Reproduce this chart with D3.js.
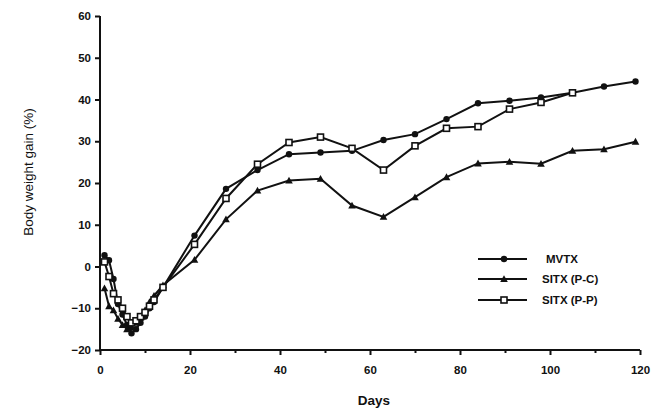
<!DOCTYPE html>
<html><head><meta charset="utf-8">
<script src="https://cdn.jsdelivr.net/npm/d3@7"></script>
<style>body{margin:0;background:#fff}svg{display:block}text{font-family:"Liberation Sans",Arial,sans-serif;fill:#111}</style>
</head><body><svg id="c" width="663" height="419"></svg>
<script>
const days = [1,2,3,4,5,6,7,8,9,10,11,12,14,21,28,35,42,49,56,63,70,77,84,91,98,105,112,119];
const mvtx = [2.7,1.5,-3,-9,-11.5,-14,-16,-15,-13.5,-12,-10,-8.5,-5,7.4,18.6,23.1,26.9,27.3,27.7,30.3,31.7,35.3,39.1,39.7,40.5,41.6,43.1,44.3];
const sitxPC = [-5.2,-9.5,-10.5,-12.5,-14,-15,-14.5,-13.5,-12,-10.5,-8.5,-7,-4.5,1.6,11.3,18.2,20.6,21.0,14.6,11.9,16.6,21.4,24.7,25.1,24.6,27.7,28.1,29.9];
const sitxPPdays = [1,2,3,4,5,6,7,8,9,10,11,12,14,21,28,35,42,49,56,63,70,77,84,91,98,105];
const sitxPP = [1.1,-2.4,-6.5,-8,-10,-12,-13.5,-13,-12,-11,-9.5,-8,-5,5.3,16.3,24.5,29.7,31.0,28.3,23.1,28.9,33.1,33.5,37.7,39.3,41.6];
const yTicks = [-20,-10,0,10,20,30,40,50,60];
const xTicks = [0,20,40,60,80,100,120];
const xMinor = [10,30,50,70,90,110];
const legendLabels = ["MVTX","SITX (P-C)","SITX (P-P)"];

const svg = d3.select("#c");
const x = d3.scaleLinear().domain([0,120]).range([100,640]);
const y = d3.scaleLinear().domain([-20,60]).range([350,16]);

// axes
const ya = svg.append("g").attr("transform","translate(100,0)")
  .call(d3.axisLeft(y).tickValues(yTicks).tickSize(5).tickPadding(4).tickFormat(d3.format("d")));
const xa = svg.append("g").attr("transform","translate(0,350)")
  .call(d3.axisBottom(x).tickValues(xTicks).tickSize(5).tickPadding(11).tickFormat(d3.format("d")));
svg.append("g").attr("transform","translate(0,350)")
  .call(d3.axisBottom(x).tickValues(xMinor).tickSize(3).tickFormat(""))
  .select(".domain").remove();
[ya,xa].forEach(g=>{
  g.select(".domain").attr("stroke","#111").attr("stroke-width",2).attr("d", g===ya ? "M0,16V350" : "M100,0H640");
  g.selectAll(".tick text").attr("font-size",11.5).attr("font-weight","bold").style("font-family","'Liberation Sans',Arial,sans-serif");
});
svg.selectAll("g .tick line").attr("stroke","#111").attr("stroke-width",2);

svg.append("text").attr("transform","translate(33,172) rotate(-90)").attr("text-anchor","middle")
  .attr("font-size",13.5).text("Body weight gain (%)");
svg.append("text").attr("x",374).attr("y",405).attr("text-anchor","middle")
  .attr("font-size",13.5).attr("font-weight","bold").text("Days");

const line = d3.line().x(d=>x(d[0])).y(d=>y(d[1]));
const series = [
  {d: days.map((t,i)=>[t,mvtx[i]]), m:"circle"},
  {d: days.map((t,i)=>[t,sitxPC[i]]), m:"triangle"},
  {d: sitxPPdays.map((t,i)=>[t,sitxPP[i]]), m:"square"}
];
function marker(g, type, cx, cy){
  if(type==="circle") g.append("circle").attr("cx",cx).attr("cy",cy).attr("r",3.2).attr("fill","#111");
  else if(type==="triangle") g.append("path").attr("d",`M${cx},${cy-3.8}L${cx+3.8},${cy+3}L${cx-3.8},${cy+3}Z`).attr("fill","#111");
  else g.append("rect").attr("x",cx-3).attr("y",cy-3).attr("width",6).attr("height",6).attr("fill","#fff").attr("stroke","#111").attr("stroke-width",1.6);
}
series.forEach(s=>{
  svg.append("path").datum(s.d).attr("d",line).attr("fill","none").attr("stroke","#111").attr("stroke-width",2);
});
series.forEach(s=>{
  const g = svg.append("g");
  s.d.forEach(p=>marker(g,s.m,x(p[0]),y(p[1])));
});

// legend
const ly = [259,279,300];
legendLabels.forEach((lab,i)=>{
  svg.append("line").attr("x1",478).attr("x2",527).attr("y1",ly[i]).attr("y2",ly[i]).attr("stroke","#111").attr("stroke-width",2);
  marker(svg, series[i].m, 504, ly[i]);
  svg.append("text").attr("x", i===0?546:542).attr("y",ly[i]+4).attr("font-size",11.5).attr("font-weight","bold").text(lab);
});
</script></body></html>
